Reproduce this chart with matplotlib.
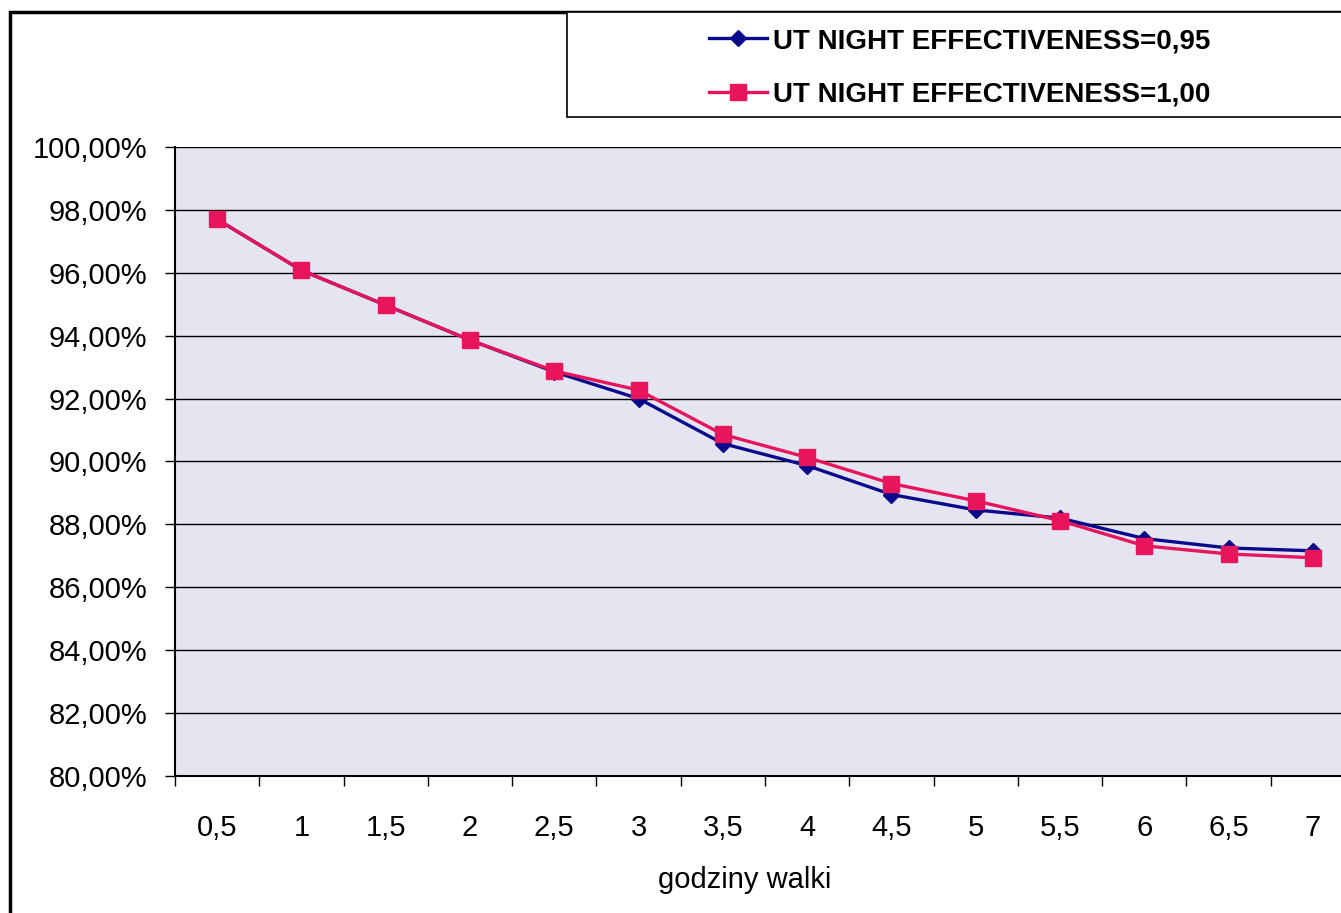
import matplotlib.pyplot as plt
from matplotlib.patches import Rectangle
from matplotlib.ticker import FuncFormatter

# --- Daten ---
godziny = ["0,5", "1", "1,5", "2", "2,5", "3", "3,5", "4", "4,5", "5", "5,5", "6", "6,5", "7"]
eff_095 = [97.70, 96.08, 94.97, 93.86, 92.85, 92.00, 90.57, 89.87, 88.95, 88.46, 88.20, 87.55, 87.25, 87.16]
eff_100 = [97.70, 96.08, 94.97, 93.86, 92.88, 92.27, 90.86, 90.13, 89.30, 88.75, 88.12, 87.32, 87.06, 86.94]

plt.rcParams["font.family"] = ["Liberation Sans", "DejaVu Sans"]

fig = plt.figure(figsize=(13.41, 9.13), dpi=100)
W, H = 1341, 913

# Plotbereich laeuft rechts ueber den Rand hinaus
ax = fig.add_axes([175 / W, 1 - 776 / H, 1180 / W, 629 / H])
ax.set_facecolor("#e5e5f1")

x = list(range(len(godziny)))
ax.plot(x, eff_095, color="#0a0a8c", linewidth=2.4, marker="D", markersize=8,
        label="UT NIGHT EFFECTIVENESS=0,95", zorder=3)
ax.plot(x, eff_100, color="#e8145c", linewidth=2.4, marker="s", markersize=11,
        label="UT NIGHT EFFECTIVENESS=1,00", zorder=4)

ax.set_ylim(80, 100)
ax.set_yticks(range(80, 101, 2))
ax.yaxis.set_major_formatter(FuncFormatter(lambda v, p: f"{v:.2f}%".replace(".", ",")))
ax.grid(axis="y", color="black", linewidth=1.0)
ax.set_axisbelow(True)

# Kategorienachse: Striche zwischen den Kategorien, Beschriftung mittig
ax.set_xlim(-0.5, len(godziny) - 0.5)
ax.set_xticks([i - 0.5 for i in range(len(godziny) + 1)])
ax.set_xticklabels([])
ax.set_xticks(x, minor=True)
ax.set_xticklabels(godziny, minor=True)
ax.tick_params(axis="x", which="major", length=7, width=1, direction="out")
ax.tick_params(axis="x", which="minor", length=0, pad=27, labelsize=21)
ax.tick_params(axis="y", length=7, width=1, direction="out", pad=13, labelsize=21)

ax.set_xlabel("godziny walki", fontsize=21)
ax.xaxis.set_label_coords(570 / 1180, -90 / 629)

for side in ["top", "right"]:
    ax.spines[side].set_visible(False)
ax.spines["left"].set_linewidth(1.5)
ax.spines["bottom"].set_linewidth(1.5)

# Diagrammrahmen und Legendenkasten
fig.add_artist(Rectangle((10 / W, -0.1), 1.2, 1 - 12 / H + 0.1, transform=fig.transFigure,
                         fill=False, edgecolor="black", linewidth=2.5))
fig.add_artist(Rectangle((567 / W, 1 - 117 / H), 0.8, 105 / H, transform=fig.transFigure,
                         facecolor="white", edgecolor="black", linewidth=1.2))

fig.legend(loc="center left", bbox_to_anchor=(684 / W, 1 - 68 / H), frameon=False,
           prop={"weight": "bold", "size": 20},
           handlelength=2.1, handletextpad=0.2, labelspacing=1.0)

fig.savefig("out.png", dpi=100)
